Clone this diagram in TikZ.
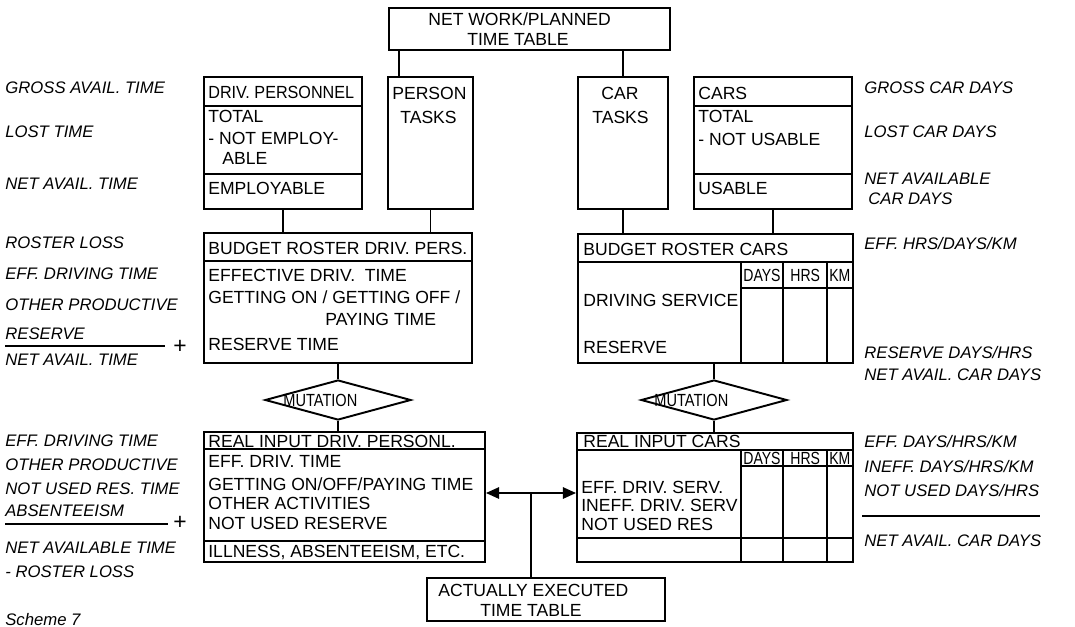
\documentclass[tikz,border=0pt]{standalone}
\usepackage{fontspec}
\setmainfont{Liberation Sans}
\usetikzlibrary{arrows.meta,calc,positioning,fit,shapes.geometric}

\newcommand{\narrowtxt}[2][0.8]{\scalebox{#1}[1]{#2}}

\tikzset{
  blk/.style={draw, line width=1.1pt, inner sep=0pt, fit={#1}},
  txt/.style={anchor=west, inner sep=0pt, text height=7.2pt, text depth=0pt,
    font=\fontsize{10}{12}\selectfont},
  side/.style={txt, font=\fontsize{9.5}{11}\selectfont\itshape},
  mut/.style={draw, line width=1.1pt, diamond, aspect=3.6, inner sep=0pt,
    minimum width=2.92cm, minimum height=0.8cm},
  link/.style={line width=1pt},
  rule/.style={line width=0.9pt},
  tip/.style={-{Triangle[length=7.5pt,width=6.5pt]}},
}

\begin{document}
\begin{tikzpicture}[x=0.02cm,y=-0.02cm]
    \useasboundingbox (0,0) rectangle (1075,626);

    % planned time table
    \node[blk={(389,8) (670,50)}] (plan) {};
    \node[txt] (plan1) at (428,19) {NET WORK/PLANNED};
    \node[txt] (plan2) at (467,39) {TIME TABLE};

    % personnel and cars, first row
    \node[blk={(204,77) (362,209)}] (drivpers) {};
    \draw[rule] (drivpers.west |- 0,106) -- (drivpers.east |- 0,106);
    \draw[rule] (drivpers.west |- 0,174) -- (drivpers.east |- 0,174);
    \node[txt] (dp1) at (208,92) {\narrowtxt[0.92]{DRIV. PERSONNEL}};
    \node[txt] (dp2) at (208,116) {TOTAL};
    \node[txt] (dp3) at (208,138) {- NOT EMPLOY-};
    \node[txt] (dp4) at (222,158) {ABLE};
    \node[txt] (dp5) at (208,188) {EMPLOYABLE};

    \node[blk={(388,77) (473,209)}] (ptasks) {};
    \node[txt] (pt1) at (392,93) {PERSON};
    \node[txt] (pt2) at (400,117) {TASKS};

    \node[blk={(578,77) (668,209)}] (ctasks) {};
    \node[txt] (ct1) at (601,93) {CAR};
    \node[txt] (ct2) at (592,117) {TASKS};

    \node[blk={(694,77) (852,209)}] (cars) {};
    \draw[rule] (cars.west |- 0,106) -- (cars.east |- 0,106);
    \draw[rule] (cars.west |- 0,174) -- (cars.east |- 0,174);
    \node[txt] (cr1) at (698,93) {CARS};
    \node[txt] (cr2) at (698,116) {TOTAL};
    \node[txt] (cr3) at (698,139) {- NOT USABLE};
    \node[txt] (cr4) at (698,188) {USABLE};

    \coordinate (pin) at ($(ptasks.north west)+(12,0)$);
    \draw[link] (pin) -- (pin |- plan.south);
    \draw[link] (ctasks.north) -- (ctasks.north |- plan.south);

    % budget rosters
    \node[blk={(204,233) (472,363)}] (budp) {};
    \draw[rule] (budp.west |- 0,261) -- (budp.east |- 0,261);
    \node[txt] (bp1) at (208,248) {BUDGET ROSTER DRIV. PERS.};
    \node[txt] (bp2) at (208,275) {EFFECTIVE DRIV.\ \ TIME};
    \node[txt] (bp3) at (208,297) {GETTING ON / GETTING OFF /};
    \node[txt] (bp4) at (325,319) {PAYING TIME};
    \node[txt] (bp5) at (208,344) {RESERVE TIME};

    \node[blk={(578,234) (853,363)}] (budc) {};
    \draw[rule] (budc.west |- 0,262) -- (budc.east |- 0,262);
    \draw[rule] (741,262) -- (741,0 |- budc.south);
    \draw[rule] (783,262) -- (783,0 |- budc.south);
    \draw[rule] (827,262) -- (827,0 |- budc.south);
    \draw[rule] (741,288) -- (budc.east |- 0,288);
    \node[txt] (bc1) at (583,249) {BUDGET ROSTER CARS};
    \node[txt] (bc2) at (743,275) {\narrowtxt{DAYS}};
    \node[txt] (bc3) at (790,275) {\narrowtxt{HRS}};
    \node[txt] (bc4) at (829,275) {\narrowtxt{KM}};
    \node[txt] (bc5) at (583,300) {DRIVING SERVICE};
    \node[txt] (bc6) at (583,347) {RESERVE};

    \draw[link] (drivpers.south) -- (drivpers.south |- budp.north);
    \draw[link] (ptasks.south) -- (ptasks.south |- budp.north);
    \draw[link] (ctasks.south) -- (ctasks.south |- budc.north);
    \draw[link] (cars.south) -- (cars.south |- budc.north);

    % mutations
    \node[mut] (mutp) at (338,400) {};
    \node[txt] (mp) at (283,400) {\narrowtxt[0.83]{MUTATION}};
    \node[mut] (mutc) at (714,400) {};
    \node[txt] (mc) at (654,400) {\narrowtxt[0.83]{MUTATION}};
    \draw[link] (mutp.north) -- (mutp.north |- budp.south);
    \draw[link] (mutc.north) -- (mutc.north |- budc.south);

    % real input
    \node[blk={(204,432) (485,562)}] (realp) {};
    \draw[rule] (realp.west |- 0,449) -- (realp.east |- 0,449);
    \draw[rule] (realp.west |- 0,541) -- (realp.east |- 0,541);
    \node[txt] (rp1) at (208,441) {REAL INPUT DRIV. PERSONL.};
    \node[txt] (rp2) at (208,461) {EFF. DRIV. TIME};
    \node[txt] (rp3) at (208,484) {GETTING ON/OFF/PAYING TIME};
    \node[txt] (rp4) at (208,503) {OTHER ACTIVITIES};
    \node[txt] (rp5) at (208,523) {NOT USED RESERVE};
    \node[txt] (rp6) at (208,551) {ILLNESS, ABSENTEEISM, ETC.};

    \node[blk={(577,433) (853,562)}] (realc) {};
    \draw[rule] (realc.west |- 0,450) -- (realc.east |- 0,450);
    \draw[rule] (741,450) -- (741,0 |- realc.south);
    \draw[rule] (783,450) -- (783,0 |- realc.south);
    \draw[rule] (827,450) -- (827,0 |- realc.south);
    \draw[rule] (741,466) -- (realc.east |- 0,466);
    \draw[rule] (realc.west |- 0,538) -- (realc.east |- 0,538);
    \node[txt] (rc1) at (583,441) {REAL INPUT CARS};
    \node[txt] (rc2) at (743,458) {\narrowtxt{DAYS}};
    \node[txt] (rc3) at (790,458) {\narrowtxt{HRS}};
    \node[txt] (rc4) at (829,458) {\narrowtxt{KM}};
    \node[txt] (rc5) at (581,487) {EFF. DRIV. SERV.};
    \node[txt] (rc6) at (581,505) {INEFF. DRIV. SERV};
    \node[txt] (rc7) at (581,524) {NOT USED RES};

    \draw[link] (mutp.south) -- (mutp.south |- realp.north);
    \draw[link] (mutc.south) -- (mutc.south |- realc.north);

    % actually executed
    \node[blk={(427,578) (665,621)}] (exec) {};
    \node[txt] (ex1) at (438,590) {ACTUALLY EXECUTED};
    \node[txt] (ex2) at (480,610) {TIME TABLE};
    \coordinate (junc) at (531,493);
    \draw[link,tip] (junc) -- (junc -| realp.east);
    \draw[link,tip] (junc) -- (junc -| realc.west);
    \draw[link] (junc) -- (junc |- exec.north);

    % left margin
    \node[side] (l1) at (5,87) {GROSS AVAIL.\ TIME};
    \node[side] (l2) at (5,131) {LOST TIME};
    \node[side] (l3) at (5,183) {NET AVAIL.\ TIME};
    \node[side] (l4) at (5,242) {ROSTER LOSS};
    \node[side] (l5) at (5,273) {EFF.\ DRIVING TIME};
    \node[side] (l6) at (5,304) {OTHER PRODUCTIVE};
    \node[side] (l7) at (5,333) {RESERVE};
    \coordinate (f1a) at (5,346);
    \coordinate (f1b) at (165,346);
    \draw[rule] (f1a) -- (f1b);
    \node[txt,font=\fontsize{13}{14}\selectfont] (p1) at (173,347) {+};
    \node[side] (l8) at (5,359) {NET AVAIL.\ TIME};
    \node[side] (l9) at (5,440) {EFF.\ DRIVING TIME};
    \node[side] (l10) at (5,464) {OTHER PRODUCTIVE};
    \node[side] (l11) at (5,488) {NOT USED RES.\ TIME};
    \node[side] (l12) at (5,510) {ABSENTEEISM};
    \coordinate (f2a) at (5,524);
    \coordinate (f2b) at (168,524);
    \draw[rule] (f2a) -- (f2b);
    \node[txt,font=\fontsize{13}{14}\selectfont] (p2) at (173,523) {+};
    \node[side] (l13) at (5,547) {NET AVAILABLE TIME};
    \node[side] (l14) at (5,571) {- ROSTER LOSS};
    \node[side,anchor=north west] (scheme) at (5,612) {Scheme 7};

    % right margin
    \node[side] (r1) at (864,87) {GROSS CAR DAYS};
    \node[side] (r2) at (864,131) {LOST CAR DAYS};
    \node[side] (r3) at (864,178) {NET AVAILABLE};
    \node[side] (r4) at (868,198) {CAR DAYS};
    \node[side] (r5) at (864,243) {EFF.\ HRS/DAYS/KM};
    \node[side] (r6) at (864,352) {RESERVE DAYS/HRS};
    \node[side] (r7) at (864,374) {NET AVAIL.\ CAR DAYS};
    \node[side] (r8) at (864,441) {EFF.\ DAYS/HRS/KM};
    \node[side] (r9) at (864,466) {INEFF.\ DAYS/HRS/KM};
    \node[side] (r10) at (864,490) {NOT USED DAYS/HRS};
    \coordinate (f3a) at (862,516);
    \coordinate (f3b) at (1040,516);
    \draw[rule] (f3a) -- (f3b);
    \node[side] (r11) at (864,540) {NET AVAIL.\ CAR DAYS};
\end{tikzpicture}
\end{document}
